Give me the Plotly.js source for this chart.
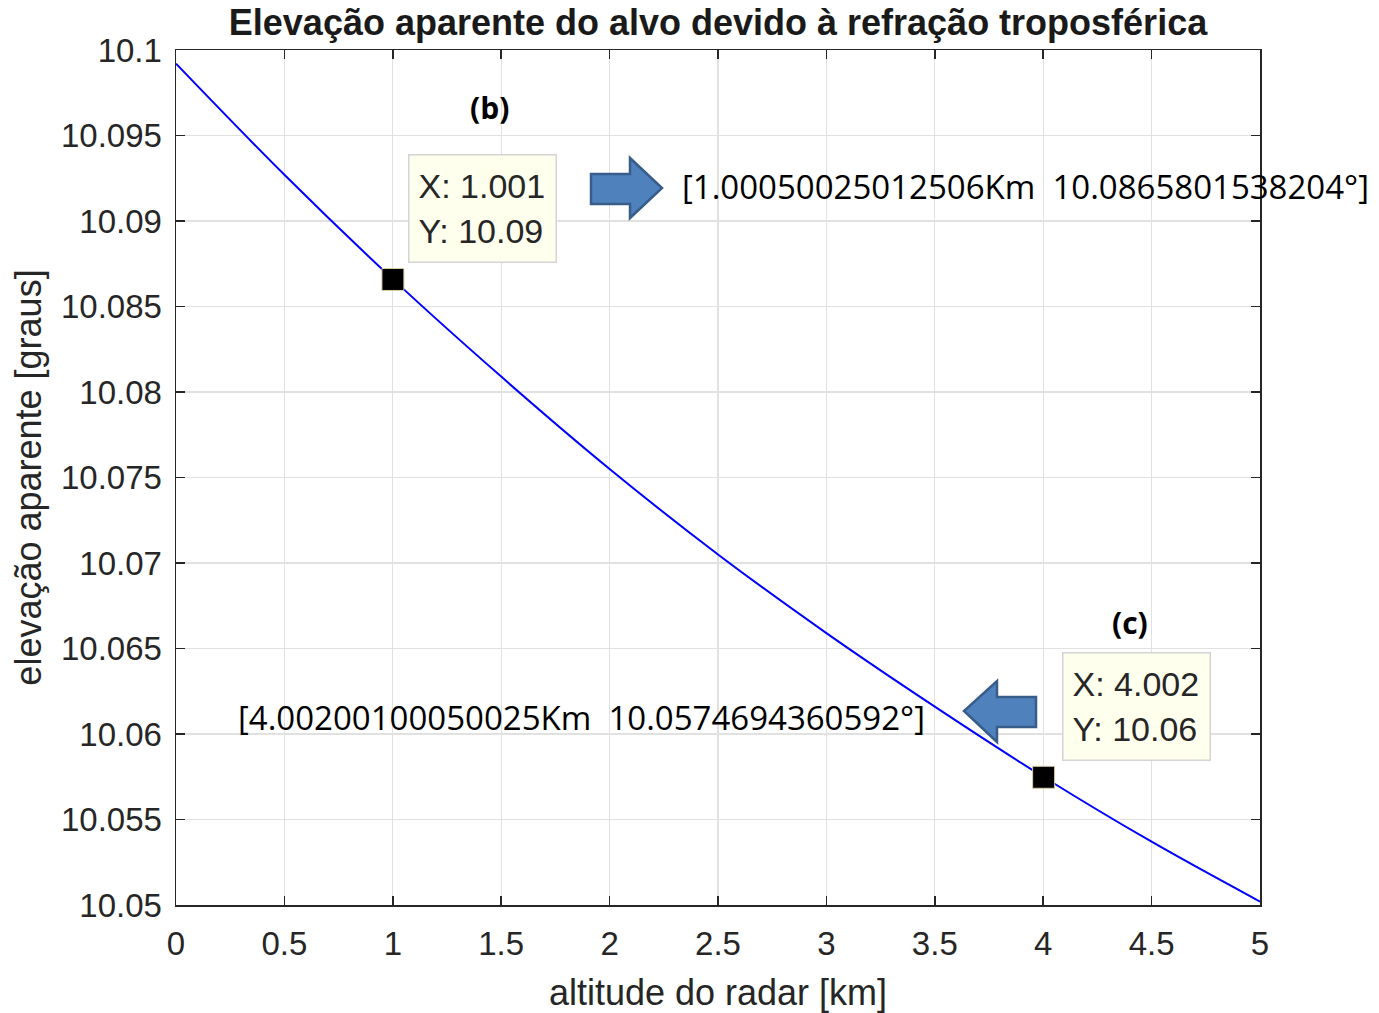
<!DOCTYPE html>
<html>
<head>
<meta charset="utf-8">
<script src="https://cdn.plot.ly/plotly-3.0.1.min.js"></script>
<style>html,body{margin:0;padding:0;background:#fff;} #chart{width:1379px;height:1013px;}</style>
</head>
<body>
<div id="chart"></div>
<script>
// ---- data ----
const altitude = [0, 0.5, 1, 1.5, 2, 2.5, 3, 3.5, 4, 4.5, 5];
const elevation = [10.0992, 10.0927, 10.0866, 10.0809, 10.0755, 10.0705, 10.0659, 10.0616, 10.0575, 10.0537, 10.0502];
const tipX = [1.00050025012506, 4.00200100050025];
const tipY = [10.0865801538204, 10.0574694360592];
const tipLabels = ["X: 1.001<br>Y: 10.09", "X: 4.002<br>Y: 10.06"];
const fullLabels = ["[1.00050025012506Km\u00a0 10.0865801538204°]", "[4.00200100050025Km\u00a0 10.0574694360592°]"];
const panelLabels = ["(b)", "(c)"];
const xTickVals = [0, 0.5, 1, 1.5, 2, 2.5, 3, 3.5, 4, 4.5, 5];
const xTickText = ["0", "0.5", "1", "1.5", "2", "2.5", "3", "3.5", "4", "4.5", "5"];
const yTickVals = [10.05, 10.055, 10.06, 10.065, 10.07, 10.075, 10.08, 10.085, 10.09, 10.095, 10.1];
const yTickText = ["10.05", "10.055", "10.06", "10.065", "10.07", "10.075", "10.08", "10.085", "10.09", "10.095", "10.1"];

// ---- geometry helpers (annotation placement only) ----
const W = 1379, H = 1013;
const M = {l: 176, r: 119, t: 50, b: 108};
const pw = W - M.l - M.r, ph = H - M.t - M.b;
const X0 = 0, X1 = 5, Y0 = 10.05, Y1 = 10.1;
const dx = px => X0 + (px - M.l) / pw * (X1 - X0);
const dy = py => Y1 - (py - M.t) / ph * (Y1 - Y0);
function pathFromPx(pts) {
  return 'M' + pts.map(p => dx(p[0]).toFixed(5) + ',' + dy(p[1]).toFixed(6)).join(' L') + ' Z';
}
const arrowRight = pathFromPx([[591,174],[630,174],[630,158],[662,188],[630,218],[630,204],[591,204]]);
const arrowLeft = pathFromPx([[1036,697],[997,697],[997,681],[964,711],[997,742],[997,727],[1036,727]]);

const txtColor = '#262626';
const traces = [
  {x: altitude, y: elevation, type: 'scatter', mode: 'lines', line: {color: '#0000ff', width: 2, shape: 'spline', smoothing: 1}, hoverinfo: 'x+y'},
  {x: tipX, y: tipY, type: 'scatter', mode: 'markers', marker: {symbol: 'square', size: 22, color: '#000000', line: {color: '#d8d0a8', width: 1}}}
];

const tipFont = {family: 'Liberation Sans, Arial', size: 34, color: txtColor};
const annotations = [
  {xref: 'x', yref: 'y', x: dx(408), y: dy(154), xanchor: 'left', yanchor: 'top', text: tipLabels[0], showarrow: false, align: 'left',
   font: tipFont, bgcolor: '#ffffee', bordercolor: '#d4d4d4', borderwidth: 1.5, borderpad: 9, width: 128, height: 88},
  {xref: 'x', yref: 'y', x: dx(1062), y: dy(652), xanchor: 'left', yanchor: 'top', text: tipLabels[1], showarrow: false, align: 'left',
   font: tipFont, bgcolor: '#ffffee', bordercolor: '#d4d4d4', borderwidth: 1.5, borderpad: 9, width: 128, height: 88},
  {xref: 'x', yref: 'y', x: dx(680), y: dy(186), xanchor: 'left', yanchor: 'middle', text: fullLabels[0], showarrow: false,
   font: {family: 'Open Sans', size: 33, color: '#000'}},
  {xref: 'x', yref: 'y', x: dx(236), y: dy(717), xanchor: 'left', yanchor: 'middle', text: fullLabels[1], showarrow: false,
   font: {family: 'Open Sans', size: 33, color: '#000'}},
  {xref: 'x', yref: 'y', x: dx(489), y: dy(107), xanchor: 'center', yanchor: 'middle', text: '<b>' + panelLabels[0] + '</b>', showarrow: false,
   font: {family: 'Open Sans', size: 30, color: '#000'}},
  {xref: 'x', yref: 'y', x: dx(1130), y: dy(622), xanchor: 'center', yanchor: 'middle', text: '<b>' + panelLabels[1] + '</b>', showarrow: false,
   font: {family: 'Open Sans', size: 30, color: '#000'}}
];

const shapes = [
  {type: 'path', xref: 'x', yref: 'y', path: arrowRight, fillcolor: '#4f81bd', line: {color: '#385d8a', width: 2.5}, layer: 'above'},
  {type: 'path', xref: 'x', yref: 'y', path: arrowLeft, fillcolor: '#4f81bd', line: {color: '#385d8a', width: 2.5}, layer: 'above'}
];

const axisCommon = {
  showline: true, linecolor: txtColor, linewidth: 1.5, mirror: 'ticks',
  ticks: 'inside', ticklen: 9, tickwidth: 1.5, tickcolor: txtColor,
  showgrid: true, gridcolor: '#e1e1e1', gridwidth: 1.2, zeroline: false,
  tickfont: {family: 'Liberation Sans, Arial', size: 33, color: txtColor},
  tickmode: 'array', automargin: false
};

const layout = {
  width: W, height: H,
  margin: M,
  paper_bgcolor: '#ffffff', plot_bgcolor: '#ffffff',
  showlegend: false,
  title: {text: '<b>Elevação aparente do alvo devido à refração troposférica</b>', x: 718 / W, xref: 'container', xanchor: 'center', y: 1 - 22 / H, yref: 'container', yanchor: 'middle',
    font: {family: 'Liberation Sans, Arial', size: 36, color: '#1a1a1a'}},
  xaxis: Object.assign({}, axisCommon, {range: [X0, X1], tickvals: xTickVals, ticktext: xTickText, ticklabelstandoff: 9,
    title: {text: 'altitude do radar [km]', standoff: 18, font: {family: 'Liberation Sans, Arial', size: 36, color: txtColor}}}),
  yaxis: Object.assign({}, axisCommon, {range: [Y0, Y1], tickvals: yTickVals, ticktext: yTickText, ticklabelstandoff: 6,
    title: {text: 'elevação aparente [graus]', standoff: 8, font: {family: 'Liberation Sans, Arial', size: 36, color: txtColor}}}),
  annotations: annotations,
  shapes: shapes
};

Plotly.newPlot('chart', traces, layout, {displayModeBar: false, staticPlot: true});
</script>
</body>
</html>
